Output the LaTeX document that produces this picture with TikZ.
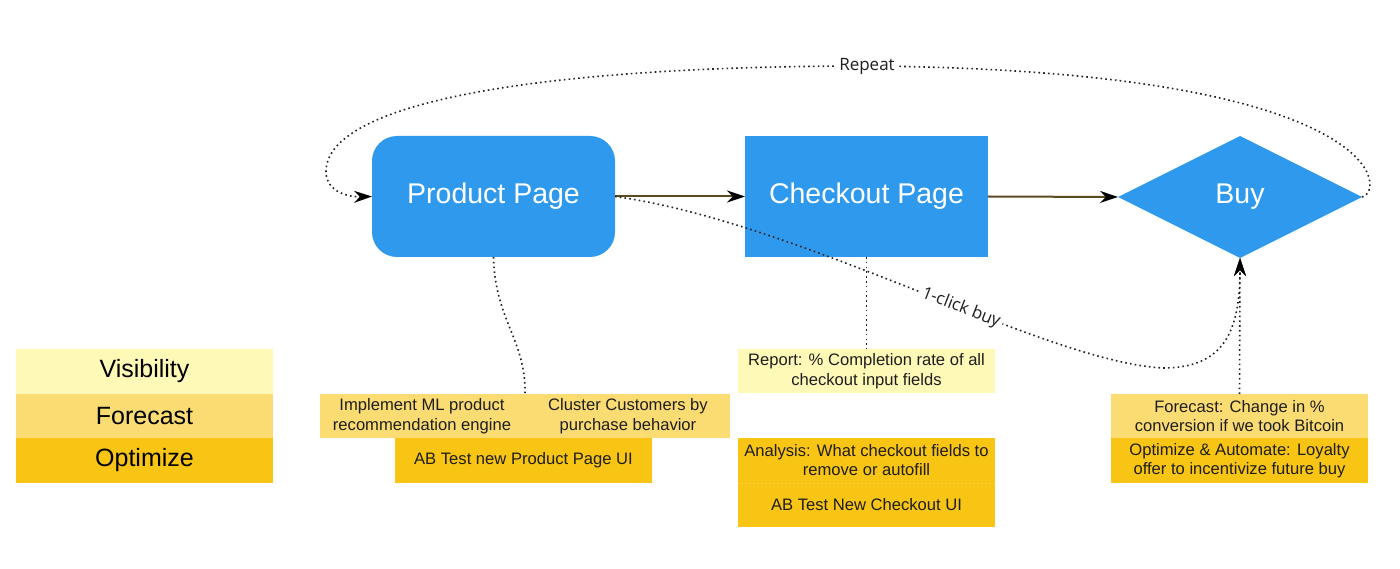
\documentclass[tikz,border=0pt]{standalone}
\usepackage{fontspec}
\setmainfont{Liberation Sans}
\newfontfamily\lblfont{Open Sans}
\usetikzlibrary{shapes.geometric,arrows.meta}
\definecolor{bblue}{HTML}{2F9AED}
\definecolor{cvis}{HTML}{FFF9B8}
\definecolor{cfc}{HTML}{FBDC72}
\definecolor{cop}{HTML}{F9C515}
\definecolor{olive}{HTML}{5B4A1F}
\definecolor{dotc}{HTML}{222222}
\definecolor{txt}{HTML}{1E1E1E}
\tikzset{
  bigbox/.style={fill=bblue, draw=none, text=white, inner sep=0pt, outer sep=0pt,
    minimum width=243pt, minimum height=121pt, font=\fontsize{28.5}{33}\selectfont},
  legbox/.style={draw=none, inner sep=0pt, outer sep=0pt, minimum width=257pt,
    text=black, font=\fontsize{25}{29}\selectfont},
  smallbox/.style={draw=none, inner sep=0pt, outer sep=0pt, minimum width=257pt,
    text=txt, align=center, font=\fontsize{16.6}{19.5}\selectfont},
  smalltext/.style={inner sep=0pt, text=txt, align=center, font=\fontsize{16.6}{19.5}\selectfont},
  mainarrow/.style={draw=olive, line width=2pt, -{Stealth[length=18pt,width=12pt,color=black]}},
  dotline/.style={draw=dotc, line width=1.6pt, dash pattern=on 1.6pt off 3.2pt},
  dotarrow/.style={dotline, -{Stealth[length=18pt,width=12pt,color=black]}},
  lbl/.style={fill=white, inner sep=3pt, text=txt, font=\lblfont\fontsize{17}{20}\selectfont}
}
\begin{document}
\begin{tikzpicture}[x=1pt,y=-1pt]
\useasboundingbox[fill=white] (0,0) rectangle (1400,569);

% main nodes
\node[bigbox, rounded corners=25pt] (pp) at (493.5,196.5) {Product Page};
\node[bigbox] (co) at (866.5,196.5) {Checkout Page};
\node[bigbox, diamond, aspect=2, minimum width=244pt, minimum height=122pt] (buy) at (1240,197) {Buy};

% legend
\node[legbox, fill=cvis, minimum height=45pt] (lvis) at (144.5,371.5) {Visibility};
\node[legbox, fill=cfc, minimum height=44pt] (lfc) at (144.5,416) {Forecast};
\node[legbox, fill=cop, minimum height=45pt] (lop) at (144.5,460.5) {Optimize};

% product page boxes
\node[smallbox, fill=cfc, minimum width=410pt, minimum height=44pt] (mlrow) at (525,416) {};
\node[smalltext] (ml) at (422,416) {Implement ML product\\recommendation engine};
\node[smalltext] (cl) at (628,416) {Cluster Customers by\\purchase behavior};
\node[smallbox, fill=cop, minimum height=45pt] (abp) at (523.5,460.5) {AB Test new Product Page UI};

% checkout boxes
\node[smallbox, fill=cvis, minimum height=44pt] (rep) at (866.5,371) {Report: \% Completion rate of all\\checkout input fields};
\node[smallbox, fill=cop, minimum height=89pt] (an) at (866.5,482.5) {};
\draw[draw=cfc, line width=0.8pt, dash pattern=on 1pt off 3pt] (an.west |- 0,483) -- (an.east |- 0,483);
\node[smalltext] (ant) at (866.5,460) {Analysis: What checkout fields to\\remove or autofill};
\node[smalltext] (abc) at (866.5,505) {AB Test New Checkout UI};

% buy boxes
\node[smallbox, fill=cfc, minimum height=44pt] (fcr) at (1239.5,416) {Forecast: Change in \%\\conversion if we took Bitcoin};
\node[smallbox, fill=cop, minimum height=45pt] (opr) at (1239.5,460.5) {Optimize \& Automate: Loyalty\\offer to incentivize future buy};

% connectors
\draw[dotline] (pp.south) .. controls (495,320) and (526,340) .. (mlrow.north);
\draw[dotline] (co.south) -- (rep.north);
\draw[dotarrow] (fcr.north) -- (buy.south);
\draw[mainarrow] (pp.east) -- (co.west);
\draw[mainarrow] (co.east) -- (buy.west);
\draw[dotarrow] (pp.east) .. controls (800,222) and (1045,362) .. node[pos=0.58, sloped, lbl] {1-click buy} (1163,368)
   .. controls (1225,368) and (1240,330) .. (buy.south);
\draw[dotarrow] (buy.east) .. controls (1388,190) and (1380,70) .. (867,66) node[lbl] {Repeat}
   .. controls (550,66) and (330,100) .. (326,170) .. controls (325,190) and (345,197) .. (pp.west);
\end{tikzpicture}
\end{document}
